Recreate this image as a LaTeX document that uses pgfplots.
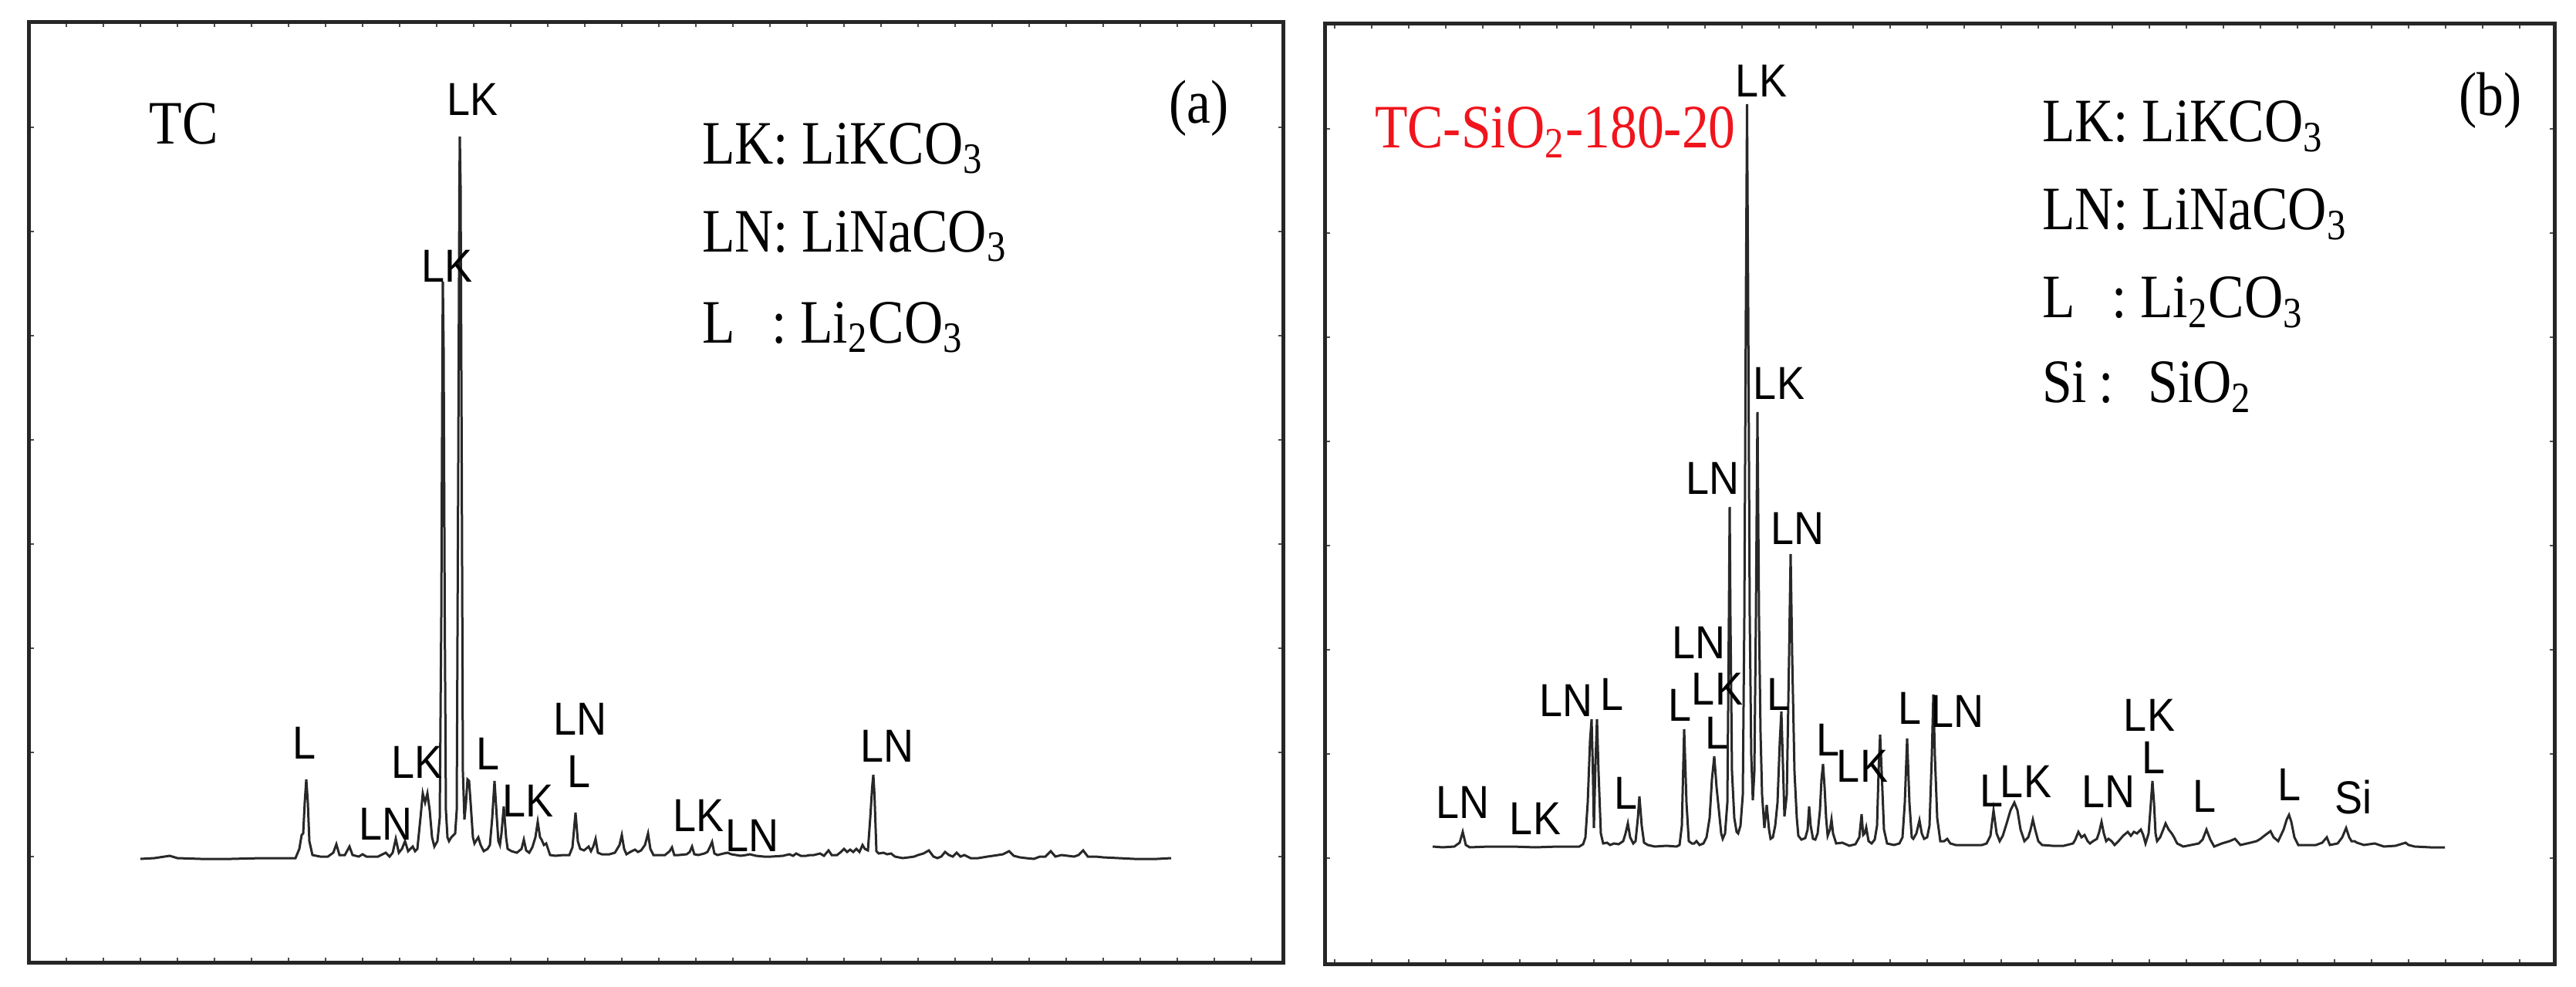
\documentclass[border=0pt]{standalone}
\usepackage{pgfplots}
\pgfplotsset{compat=1.18}
\usepackage{fontspec}
\setmainfont{Liberation Serif}
\setsansfont{Liberation Sans}
\newfontfamily\legfont[FakeStretch=0.87]{Liberation Serif}
\newfontfamily\labfont[FakeStretch=0.9]{Liberation Sans}
\definecolor{tcred}{RGB}{240,20,28}
\definecolor{trace}{RGB}{40,40,40}
\pgfplotsset{
  xrdpanel/.style={
    scale only axis,
    height=243.6pt,
    y dir=reverse,
    ymin=29, ymax=1247,
    axis line style={line width=1pt, color=black!85},
    tick align=inside,
    major tick length=1.3pt,
    tick style={line width=0.5pt, color=black!70},
    xticklabels={}, yticklabels={},
    clip=false,
  },
}
\tikzset{
  pk/.style={font=\labfont\fontsize{12}{12}\selectfont, anchor=base, inner sep=0pt},
  lg/.style={font=\legfont\fontsize{16}{18}\selectfont, anchor=base west, inner sep=0pt},
}
\begin{document}
\begin{tikzpicture}
\path (0pt,0pt) rectangle (667.8pt,-255.8pt);
% ---------------- panel (a) ----------------
\begin{axis}[xrdpanel, at={(7.6pt,-249.4pt)}, anchor=south west,
  width=325pt, xmin=38, xmax=1663,
  xtick={86,134,...,1640}, ytick={165,300,...,1120}]
\addplot[trace, line width=0.6pt] coordinates {
(182,1113)(200,1112)(220,1109)(230,1112)(260,1113)(300,1113)(340,1112)(383,1112)
(388,1100)(391,1082)(393,1080)(395,1040)(397,1010)(399,1040)(401,1090)(405,1108)
(415,1110)(425,1110)(432,1105)(436,1094)(440,1108)(447,1108)(453,1097)(457,1108)
(465,1110)(470,1107)(475,1110)(490,1110)(500,1105)(505,1110)(509,1105)(513,1087)
(517,1105)(521,1100)(525,1090)(529,1103)(532,1100)(535,1097)(538,1103)(541,1100)
(545,1060)(548,1028)(551,1040)(554,1028)(557,1050)(560,1085)(563,1097)(567,1090)
(570,1060)(572,800)(573.5,450)(574,365)(575,450)(576.5,800)(578,1050)(580,1085)
(582,1090)(585,1085)(587,1083)(590,1080)(592,1050)(594,600)(595.5,240)(596,177)
(597,240)(598.5,600)(600,1000)(602,1062)(604,1040)(606,1010)(608,1012)(610,1040)
(613,1085)(615,1093)(618,1088)(620,1085)(623,1095)(627,1103)(632,1100)(635,1095)
(638,1060)(641,1012)(644,1060)(646,1090)(648,1095)(650,1080)(653,1045)(656,1085)
(658,1100)(663,1103)(670,1105)(676,1100)(679,1088)(682,1102)(686,1105)(690,1098)
(694,1085)(697,1065)(700,1085)(702,1088)(705,1095)(708,1093)(713,1108)(720,1109)
(730,1108)(738,1108)(742,1098)(746,1053)(749,1090)(752,1100)(757,1102)(763,1097)
(766,1103)(769,1097)(772,1087)(775,1105)(780,1107)(790,1107)(797,1105)(803,1095)
(806,1082)(809,1100)(812,1107)(817,1104)(823,1101)(827,1104)(831,1102)(836,1095)
(840,1080)(843,1100)(847,1108)(855,1108)(862,1108)(868,1103)(871,1098)(874,1108)
(880,1108)(890,1107)(894,1104)(897,1097)(900,1107)(905,1108)(913,1106)(917,1104)
(920,1098)(923,1091)(926,1106)(930,1108)(938,1106)(943,1105)(948,1107)(954,1108)
(960,1109)(967,1108)(972,1107)(980,1109)(990,1110)(1000,1110)(1015,1109)(1023,1107)
(1028,1109)(1032,1106)(1038,1109)(1045,1109)(1050,1108)(1055,1108)(1063,1106)(1068,1109)
(1074,1102)(1078,1108)(1085,1108)(1090,1104)(1094,1100)(1098,1104)(1102,1101)(1106,1104)
(1110,1100)(1114,1104)(1118,1095)(1121,1100)(1125,1102)(1128,1060)(1130.5,1020)(1132,1004)
(1133.5,1030)(1136,1103)(1139,1106)(1145,1105)(1150,1107)(1155,1106)(1160,1110)(1170,1112)
(1178,1111)(1185,1110)(1190,1108)(1197,1106)(1204,1102)(1210,1110)(1215,1112)(1220,1110)
(1225,1104)(1230,1108)(1235,1110)(1240,1105)(1245,1110)(1250,1108)(1258,1112)(1268,1112)
(1280,1110)(1287,1109)(1300,1107)(1308,1103)(1314,1109)(1322,1111)(1330,1112)(1340,1113)
(1348,1110)(1355,1110)(1362,1103)(1368,1110)(1376,1108)(1384,1109)(1392,1110)(1398,1108)
(1404,1102)(1410,1110)(1420,1110)(1430,1111)(1450,1112)(1470,1113)(1500,1113)(1518,1112)
};
% peak labels
\node[pk] at (axis cs:395,983) {L};
\node[pk] at (axis cs:500,1088) {LN};
\node[pk] at (axis cs:541,1008) {LK};
\node[pk] at (axis cs:580,366) {LK};
\node[pk] at (axis cs:613,149) {LK};
\node[pk] at (axis cs:633,997) {L};
\node[pk] at (axis cs:685,1058) {LK};
\node[pk] at (axis cs:752,952) {LN};
\node[pk] at (axis cs:751,1020) {L};
\node[pk] at (axis cs:906,1077) {LK};
\node[pk] at (axis cs:975,1103) {LN};
\node[pk] at (axis cs:1150,987) {LN};
% texts
\node[lg] at (axis cs:193,187) {TC};
\node[lg, anchor=base] at (axis cs:1554,160) {(a)};
\node[lg] at (axis cs:909,212) {LK: LiKCO\textsubscript{3}};
\node[lg] at (axis cs:909,326) {LN: LiNaCO\textsubscript{3}};
\node[lg] at (axis cs:909,444) {L\hspace{0.6em}: Li\textsubscript{2}CO\textsubscript{3}};
\end{axis}
% ---------------- panel (b) ----------------
\begin{axis}[xrdpanel, at={(343.4pt,-249.8pt)}, anchor=south west,
  width=318.8pt, xmin=1717, xmax=3311, ymin=31, ymax=1249,
  xtick={1730,1778,...,3300}, ytick={167,302,...,1120}]
\addplot[trace, line width=0.6pt] coordinates {
(1857,1097)(1870,1098)(1885,1097)(1892,1092)(1896,1078)(1900,1095)(1905,1098)(1930,1097)
(1960,1097)(1990,1098)(2020,1097)(2047,1097)(2052,1094)(2055,1085)(2058,1040)(2061,960)
(2063,932)(2064.5,990)(2066,1073)(2068,990)(2070,932)(2072,1000)(2075,1080)(2078,1093)
(2083,1092)(2087,1095)(2092,1093)(2098,1094)(2104,1090)(2107,1080)(2110,1067)(2113,1085)
(2117,1093)(2120,1090)(2123,1060)(2125,1032)(2128,1070)(2131,1092)(2136,1095)(2145,1097)
(2160,1096)(2173,1097)(2177,1095)(2180,1070)(2183,945)(2186,1040)(2189,1090)(2193,1093)
(2196,1093)(2199,1090)(2203,1095)(2208,1093)(2212,1085)(2216,1060)(2219,1010)(2222,980)
(2225,1020)(2228,1050)(2231,1080)(2233,1087)(2236,1080)(2239,1040)(2241,800)(2242,657)
(2243,800)(2245,1000)(2248,1060)(2251,1078)(2253,1080)(2256,1070)(2259,1030)(2261,800)
(2263,400)(2264.5,135)(2266,400)(2268,800)(2270,980)(2272,1037)(2274,1000)(2276,800)
(2278,534)(2280,800)(2282,950)(2284,1030)(2287,1073)(2290,1043)(2293,1075)(2295,1087)
(2298,1085)(2301,1070)(2304,1040)(2307,960)(2309,922)(2311,990)(2313,1058)(2316,1030)
(2319,850)(2321,718)(2323,850)(2326,1000)(2329,1060)(2331,1083)(2335,1088)(2340,1086)
(2343,1075)(2345,1045)(2347,1070)(2350,1087)(2353,1088)(2356,1080)(2359,1050)(2361,1010)
(2363,990)(2365,1020)(2367,1060)(2369,1083)(2372,1075)(2374,1062)(2376,1080)(2380,1093)
(2388,1092)(2397,1096)(2405,1094)(2410,1085)(2413,1055)(2415,1082)(2417,1080)(2419,1072)
(2422,1090)(2426,1093)(2430,1088)(2433,1070)(2435,1000)(2437,952)(2439,1000)(2442,1075)
(2446,1093)(2455,1095)(2462,1093)(2466,1085)(2469,1040)(2472,957)(2475,1040)(2478,1085)
(2480,1087)(2484,1080)(2488,1063)(2491,1080)(2494,1087)(2498,1085)(2501,1070)(2504,980)
(2506,900)(2508,980)(2511,1060)(2515,1090)(2520,1090)(2524,1087)(2528,1093)(2535,1095)
(2550,1095)(2569,1095)(2575,1093)(2580,1083)(2584,1050)(2588,1080)(2592,1090)(2596,1083)
(2601,1067)(2606,1050)(2611,1040)(2615,1050)(2619,1075)(2624,1090)(2629,1085)(2632,1075)
(2635,1062)(2638,1075)(2642,1090)(2647,1095)(2660,1096)(2675,1096)(2687,1093)(2690,1088)
(2694,1078)(2698,1085)(2702,1082)(2706,1090)(2709,1093)(2713,1090)(2718,1087)(2721,1078)
(2724,1065)(2727,1080)(2730,1090)(2733,1087)(2737,1090)(2741,1095)(2746,1090)(2752,1083)
(2758,1078)(2762,1083)(2766,1078)(2770,1080)(2775,1075)(2778,1082)(2781,1093)(2785,1080)
(2788,1040)(2790,1012)(2792,1040)(2794,1080)(2796,1090)(2800,1085)(2804,1075)(2807,1067)
(2811,1075)(2815,1080)(2818,1085)(2822,1093)(2830,1097)(2840,1095)(2850,1093)(2855,1088)
(2860,1075)(2865,1088)(2870,1097)(2880,1093)(2890,1090)(2897,1087)(2904,1095)(2917,1092)
(2925,1090)(2930,1087)(2935,1083)(2939,1080)(2943,1077)(2947,1085)(2953,1090)(2960,1075)
(2964,1062)(2967,1056)(2970,1065)(2974,1085)(2979,1095)(2990,1095)(3002,1095)(3010,1092)
(3016,1085)(3020,1095)(3030,1093)(3036,1085)(3041,1073)(3045,1085)(3048,1090)(3052,1090)
(3055,1092)(3064,1095)(3078,1093)(3090,1097)(3105,1096)(3115,1093)(3118,1092)(3122,1095)
(3130,1097)(3150,1098)(3169,1098)
};
\node[pk] at (axis cs:1896,1060) {LN};
\node[pk] at (axis cs:1990,1082) {LK};
\node[pk] at (axis cs:2030,928) {LN};
\node[pk] at (axis cs:2090,920) {L};
\node[pk] at (axis cs:2108,1048) {L};
\node[pk] at (axis cs:2178,934) {L};
\node[pk] at (axis cs:2202,853) {LN};
\node[pk] at (axis cs:2226,914) {LK};
\node[pk] at (axis cs:2226,970) {L};
\node[pk] at (axis cs:2220,640) {LN};
\node[pk] at (axis cs:2283,126) {LK};
\node[pk] at (axis cs:2306,518) {LK};
\node[pk] at (axis cs:2330,706) {LN};
\node[pk] at (axis cs:2306,920) {L};
\node[pk] at (axis cs:2370,980) {L};
\node[pk] at (axis cs:2414,1013) {LK};
\node[pk] at (axis cs:2476,938) {L};
\node[pk] at (axis cs:2537,942) {LN};
\node[pk] at (axis cs:2582,1045) {L};
\node[pk] at (axis cs:2626,1033) {LK};
\node[pk] at (axis cs:2733,1047) {LN};
\node[pk] at (axis cs:2786,948) {LK};
\node[pk] at (axis cs:2792,1002) {L};
\node[pk] at (axis cs:2858,1052) {L};
\node[pk] at (axis cs:2968,1037) {L};
\node[pk] at (axis cs:3050,1055) {Si};
% texts
\node[lg, text=tcred] at (axis cs:1781,192) {TC-SiO\textsubscript{2}-180-20};
\node[lg, anchor=base] at (axis cs:3228,150) {(b)};
\node[lg] at (axis cs:2646,184) {LK: LiKCO\textsubscript{3}};
\node[lg] at (axis cs:2646,298) {LN: LiNaCO\textsubscript{3}};
\node[lg] at (axis cs:2646,412) {L\hspace{0.6em}: Li\textsubscript{2}CO\textsubscript{3}};
\node[lg] at (axis cs:2646,522) {Si\hspace{0.2em}:\hspace{0.55em}SiO\textsubscript{2}};
\end{axis}
\pgfresetboundingbox
\useasboundingbox (0pt,0pt) rectangle (667.8pt,-255.8pt);
\end{tikzpicture}
\end{document}
